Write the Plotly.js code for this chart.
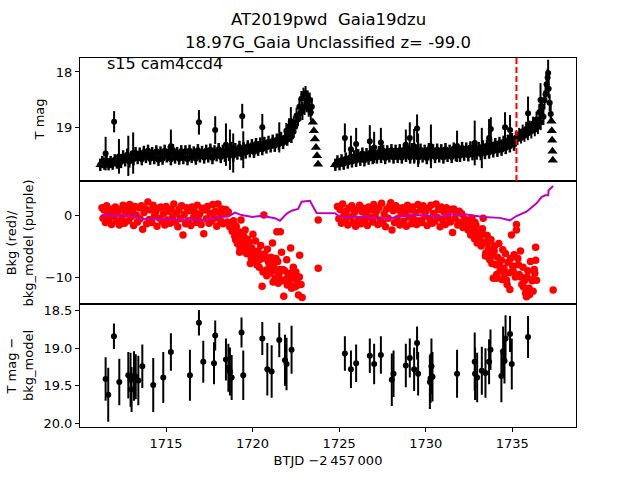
<!DOCTYPE html>
<html><head><meta charset="utf-8">
<script src="https://cdn.plot.ly/plotly-3.0.1.min.js"></script>
<style>body{margin:0;background:#fff;}#chart{width:640px;height:480px;}</style>
</head><body><div id="chart"></div>
<script>
// ---------------- text ----------------
const titleLine1 = "AT2019pwd \u00a0Gaia19dzu";
const titleLine2 = "18.97G_Gaia Unclassified z= -99.0";
const sectorLabel = "s15 cam4ccd4";
const xLabel = "BTJD \u22122\u2009457\u2009000";
const yLabelTop = "T mag";
const yLabelMid = "Bkg (red)/<br>bkg_model (purple)";
const yLabelBot = "T mag \u2212<br>bkg_model";
const discoveryDay = 1735.24;

// ---------------- top panel: dense light-curve band ----------------
const bandDay1 = [
1711.20,1711.32,1711.44,1711.56,1711.68,1711.80,1711.92,1712.04,1712.16,1712.28,
1712.40,1712.52,1712.64,1712.76,1712.88,1713.00,1713.12,1713.24,1713.36,1713.48,
1713.60,1713.72,1713.84,1713.96,1714.08,1714.20,1714.32,1714.44,1714.56,1714.68,
1714.80,1714.92,1715.04,1715.16,1715.28,1715.40,1715.52,1715.64,1715.76,1715.88,
1716.00,1716.12,1716.24,1716.36,1716.48,1716.60,1716.72,1716.84,1716.96,1717.08,
1717.20,1717.32,1717.44,1717.56,1717.68,1717.80,1717.92,1718.04,1718.16,1718.28,
1718.40,1718.52,1718.64,1718.76,1718.88,1719.00,1719.12,1719.24,1719.36,1719.48,
1719.60,1719.72,1719.84,1719.96,1720.08,1720.20,1720.32,1720.44,1720.56,1720.68,
1720.80,1720.92,1721.04,1721.16,1721.28,1721.40,1721.52,1721.64,1721.76,1721.88,
1722.00,1722.12,1722.24,1722.36];
const bandMag1 = [
19.66,19.61,19.64,19.60,19.65,19.61,19.64,19.58,19.62,19.57,
19.61,19.51,19.58,19.48,19.60,19.52,19.56,19.45,19.54,19.46,
19.56,19.43,19.52,19.41,19.55,19.45,19.54,19.42,19.57,19.44,
19.55,19.41,19.51,19.43,19.56,19.40,19.53,19.45,19.55,19.42,
19.54,19.42,19.56,19.41,19.52,19.44,19.55,19.40,19.51,19.43,
19.53,19.41,19.51,19.39,19.54,19.42,19.49,19.38,19.52,19.41,
19.50,19.38,19.48,19.36,19.50,19.38,19.46,19.34,19.47,19.36,
19.44,19.33,19.42,19.31,19.43,19.29,19.39,19.28,19.38,19.27,
19.35,19.25,19.33,19.23,19.32,19.21,19.29,19.18,19.27,19.17,
19.21,19.13,19.16,19.07];
const bandDay2 = [
1724.78,1724.90,1725.02,1725.14,1725.26,1725.38,1725.50,1725.62,1725.74,1725.86,
1725.98,1726.10,1726.22,1726.34,1726.46,1726.58,1726.70,1726.82,1726.94,1727.06,
1727.18,1727.30,1727.42,1727.54,1727.66,1727.78,1727.90,1728.02,1728.14,1728.26,
1728.38,1728.50,1728.62,1728.74,1728.86,1728.98,1729.10,1729.22,1729.34,1729.46,
1729.58,1729.70,1729.82,1729.94,1730.06,1730.18,1730.30,1730.42,1730.54,1730.66,
1730.78,1730.90,1731.02,1731.14,1731.26,1731.38,1731.50,1731.62,1731.74,1731.86,
1731.98,1732.10,1732.22,1732.34,1732.46,1732.58,1732.70,1732.82,1732.94,1733.06,
1733.18,1733.30,1733.42,1733.54,1733.66,1733.78,1733.90,1734.02,1734.14,1734.26,
1734.38,1734.50,1734.62,1734.74,1734.86,1734.98,1735.10,1735.22];
const bandMag2 = [
19.66,19.60,19.65,19.58,19.64,19.55,19.62,19.53,19.60,19.51,
19.59,19.49,19.57,19.46,19.58,19.47,19.55,19.44,19.54,19.45,
19.53,19.43,19.52,19.41,19.54,19.42,19.51,19.40,19.53,19.41,
19.52,19.40,19.53,19.39,19.50,19.42,19.53,19.38,19.51,19.41,
19.53,19.39,19.51,19.41,19.54,19.38,19.50,19.40,19.52,19.39,
19.51,19.40,19.53,19.38,19.50,19.41,19.52,19.37,19.49,19.39,
19.50,19.36,19.48,19.37,19.49,19.35,19.47,19.34,19.46,19.36,
19.47,19.33,19.45,19.32,19.44,19.30,19.42,19.29,19.41,19.27,
19.39,19.25,19.36,19.23,19.33,19.20,19.30,19.17];
const bandErr = 0.11;

// ---------------- top panel: upper limits (triangles) ----------------
const limDay = [1711.22,1711.34,1711.46,1711.58,
1723.48,1723.54,1723.60,1723.66,1723.72,1723.78,
1724.76,1724.86,1724.96,1725.06,
1737.26,1737.28,1737.30,1737.32,1737.34];
const limMag = [19.66,19.62,19.67,19.63,
18.90,19.05,19.20,19.35,19.50,19.65,
19.66,19.62,19.65,19.61,
18.88,19.05,19.22,19.42,19.58];

// ---------------- top panel: detections with errors ----------------
const peak1Day = [1721.95,1722.10,1722.30,1722.38,1722.46,1722.54,1722.62,1722.70,1722.76,1722.82,1722.88,1722.94,1723.00,1723.06,1723.12,1723.18,1723.24,1723.30,1723.36,1723.42];
const peak1Mag = [19.05,18.98,19.08,18.92,18.98,18.78,18.85,18.62,18.74,18.48,18.70,18.40,18.62,18.38,18.55,18.45,18.66,18.50,18.72,18.62];
const peak1Err = [0.14,0.15,0.12,0.13,0.12,0.14,0.12,0.15,0.13,0.14,0.16,0.12,0.15,0.13,0.17,0.12,0.14,0.13,0.15,0.16];
const peak2Day = [1735.30,1735.40,1735.50,1735.60,1735.70,1735.80,1735.90,1736.00,1736.10,1736.20,1736.30,1736.40,1736.48,1736.56,1736.64,1736.72,1736.80,1736.86,1736.92,1736.98,1737.04,1737.10,1737.16,1737.22];
const peak2Mag = [19.20,19.12,19.18,19.06,19.14,19.02,19.10,18.98,19.06,18.92,19.03,18.85,18.98,18.72,18.90,18.62,18.80,18.50,18.40,18.22,18.10,18.30,18.55,18.75];
const peak2Err = [0.11,0.12,0.10,0.12,0.11,0.13,0.12,0.11,0.13,0.12,0.12,0.14,0.13,0.15,0.14,0.16,0.15,0.17,0.16,0.18,0.16,0.17,0.15,0.16];
const outDay = [1711.51,1712.00,1712.28,1712.82,1713.10,1715.28,1716.90,1717.84,1718.46,1718.69,
1718.88,1719.40,1719.46,1720.56,1721.54,1722.21,1725.33,1725.68,1725.98,1726.77,
1727.02,1727.41,1728.85,1729.08,1729.33,1729.50,1729.56,1730.30,1731.81,1732.83,
1733.24,1733.66,1733.76,1734.58,1734.87,1735.91,1736.63,1737.07];
const outMag = [19.46,18.89,19.51,19.50,19.45,19.33,18.90,19.04,19.30,19.39,
19.45,18.79,19.39,18.99,19.17,18.88,19.18,19.38,19.29,19.24,
19.35,19.26,19.30,19.18,19.33,19.01,19.40,19.33,19.33,19.27,
19.36,19.18,19.02,18.99,19.04,18.74,18.50,18.02];
const outErr = [0.30,0.19,0.31,0.36,0.37,0.30,0.22,0.25,0.38,0.36,
0.35,0.22,0.33,0.24,0.27,0.25,0.26,0.24,0.29,0.29,
0.28,0.26,0.27,0.28,0.31,0.25,0.30,0.39,0.28,0.40,
0.36,0.34,0.21,0.27,0.27,0.30,0.30,0.24];

// ---------------- middle panel: background (red) ----------------
const bkgDay1 = [
1711.30,1711.36,1711.42,1711.50,1711.57,1711.63,1711.70,1711.78,1711.85,1711.92,
1712.00,1712.07,1712.15,1712.22,1712.30,1712.37,1712.45,1712.52,1712.60,1712.68,
1712.75,1712.83,1712.90,1712.98,1713.05,1713.13,1713.20,1713.28,1713.35,1713.43,
1713.50,1713.58,1713.65,1713.73,1713.80,1713.88,1713.95,1714.03,1714.10,1714.18,
1714.25,1714.33,1714.40,1714.48,1714.55,1714.63,1714.70,1714.78,1714.85,1714.93,
1715.00,1715.08,1715.15,1715.23,1715.30,1715.38,1715.45,1715.53,1715.60,1715.68,
1715.75,1715.83,1715.90,1715.98,1716.05,1716.13,1716.20,1716.28,1716.35,1716.43,
1716.50,1716.58,1716.65,1716.73,1716.80,1716.88,1716.95,1717.03,1717.10,1717.18,
1717.25,1717.33,1717.40,1717.48,1717.55,1717.63,1717.70,1717.78,1717.85,1717.93,
1718.00,1718.08,1718.15,1718.23,1718.30,1718.38,1718.45,1718.53,1718.60,1718.68];
const bkgVal1 = [
1.2,-0.5,0.8,-1.2,1.5,0.2,-0.8,1.0,-1.5,0.5,
-0.2,1.3,-1.0,0.6,-1.6,0.9,-0.4,1.6,-1.3,0.3,
1.1,-0.9,1.7,-0.3,0.7,-1.7,1.4,0.0,-1.1,1.2,
-0.6,1.5,-2.3,0.4,1.0,-1.4,2.1,-0.7,0.8,-1.2,
1.6,-0.2,0.5,-1.8,1.1,-0.5,1.3,-1.0,0.2,-1.6,
1.4,-0.8,0.6,-1.3,1.0,-0.3,1.8,-1.1,0.3,-1.9,
0.9,-0.6,1.5,-3.2,0.1,-1.4,1.2,-0.9,0.7,-1.7,
1.3,-0.4,0.5,-1.2,1.6,-0.8,0.2,-1.5,1.1,-3.0,
0.8,-0.6,1.4,-1.3,0.3,-1.0,1.7,-0.5,0.6,-1.8,
1.8,0.4,-0.9,1.0,-1.4,0.2,0.9,-1.1,0.5,-1.9];
const bkgDay1b = [
1718.75,1718.82,1718.90,1718.97,1719.05,1719.12,1719.20,1719.27,1719.33,1719.42,
1719.50,1719.57,1719.65,1719.72,1719.80,1719.87,1719.95,1720.02,1720.10,1720.17,
1720.25,1720.32,1720.40,1720.47,1720.55,1720.65,1720.70,1720.77,1720.85,1720.92,
1721.00,1721.07,1721.15,1721.22,1721.30,1721.40,1721.45,1721.52,1721.60,1721.67,
1721.75,1721.80,1721.90,1721.97,1722.05,1722.12,1722.20,1722.27,1722.35,1722.42,
1722.50,1722.57,1722.65,1722.72,1722.80,1722.86,1723.79,1723.79,
1718.80,1718.92,1719.02,1719.15,1719.25,1719.38,1719.48,1719.60,1719.70,1719.83,
1719.92,1720.05,1720.15,1720.28,1720.38,1720.50,1720.60,1720.73,1720.82,1720.95,
1721.05,1721.18,1721.27,1721.35,1721.48,1721.57,1721.70,1721.85,1722.00,1722.15,
1722.25,1722.40,1722.55,1722.70];
const bkgVal1b = [
-1.2,-2.6,-0.9,-3.4,-1.8,-4.6,-2.7,-5.3,-0.8,-3.7,
-5.0,-2.4,-6.2,-3.9,-4.4,-7.8,-5.3,-3.1,-6.6,-4.2,
-8.0,-5.8,-7.2,-4.9,-11.5,0.0,-6.3,-8.9,-5.5,-7.6,
-9.4,-6.8,-4.5,-8.3,-10.2,-2.7,-7.5,-9.8,-2.7,-6.0,
-8.8,-13.1,-10.4,-7.2,-9.6,-11.0,-5.3,-10.0,-8.4,-11.6,
-9.2,-10.8,-12.9,-6.5,-11.2,-13.3,-0.8,-8.6,
-2.0,-1.5,-4.0,-3.0,-6.0,-4.5,-3.3,-5.6,-4.8,-6.0,
-6.9,-5.8,-7.4,-6.2,-8.4,-6.8,-9.2,-7.0,-9.8,-8.5,
-7.8,-10.8,-9.0,-7.0,-11.0,-8.8,-10.6,-9.0,-11.3,-9.4,
-11.8,-10.2,-11.4,-10.0];
const bkgDay2 = [
1724.90,1724.98,1725.05,1725.13,1725.20,1725.28,1725.35,1725.43,1725.50,1725.58,
1725.65,1725.73,1725.80,1725.88,1725.95,1726.03,1726.10,1726.18,1726.25,1726.33,
1726.40,1726.48,1726.55,1726.63,1726.70,1726.78,1726.85,1726.93,1727.00,1727.08,
1727.15,1727.23,1727.30,1727.38,1727.45,1727.53,1727.60,1727.68,1727.75,1727.83,
1727.90,1727.98,1728.05,1728.12,1728.20,1728.28,1728.35,1728.43,1728.50,1728.58,
1728.65,1728.73,1728.80,1728.88,1728.95,1729.03,1729.10,1729.18,1729.25,1729.33,
1729.40,1729.48,1729.55,1729.63,1729.70,1729.78,1729.85,1729.93,1730.00,1730.08,
1730.15,1730.23,1730.30,1730.38,1730.45,1730.53,1730.60,1730.68,1730.75,1730.83,
1730.90,1730.98,1731.05,1731.13,1731.20,1731.28,1731.35,1731.43,1731.50,1731.55,
1731.62,1731.70,1731.78,1731.85,1731.93,1732.00,1732.08,1732.15,1732.23,1732.30];
const bkgVal2 = [
1.4,-0.6,0.9,-1.3,1.8,0.1,-1.0,0.7,-1.6,1.2,
-0.3,1.5,-1.2,0.4,-1.8,1.0,-0.7,1.6,-1.4,0.5,
1.1,-0.9,0.3,-1.7,1.3,-0.4,0.8,-1.1,1.7,-0.2,
0.6,-1.5,1.2,-0.8,1.9,-1.3,0.2,-1.9,1.0,-0.5,
1.4,2.0,-2.4,0.7,-1.2,1.5,-0.6,0.9,-1.6,0.3,
1.2,-1.0,0.5,-1.8,1.6,-0.3,0.9,-1.4,1.3,-0.7,
0.4,-1.5,1.7,-0.9,0.8,-1.2,1.5,-0.2,0.6,-1.7,
1.1,-0.6,1.6,-1.3,0.3,-1.0,1.8,-0.4,0.9,-1.9,
1.3,-0.8,0.5,-1.5,1.2,-0.3,0.7,-1.1,0.9,-2.8,
1.0,-0.5,0.4,-1.6,0.6,-1.2,0.2,-2.0,-0.6,-1.4];
const bkgDay2b = [
1732.38,1732.45,1732.52,1732.60,1732.67,1732.75,1732.82,1732.90,1732.97,1733.05,
1733.12,1733.20,1733.27,1733.32,1733.40,1733.47,1733.55,1733.62,1733.70,1733.77,
1733.85,1733.90,1733.97,1734.05,1734.09,1734.15,1734.22,1734.30,1734.37,1734.45,
1734.52,1734.60,1734.67,1734.75,1734.82,1734.86,1734.95,1735.02,1735.10,1735.17,
1735.24,1735.24,1735.32,1735.40,1735.47,1735.55,1735.62,1735.70,1735.77,1735.82,
1735.90,1735.97,1736.05,1736.12,1736.20,1736.27,1736.35,1736.35,1736.40,1737.36,
1732.40,1732.55,1732.70,1732.85,1733.00,1733.15,1733.30,1733.45,1733.58,1733.72,
1733.82,1733.95,1734.10,1734.25,1734.40,1734.55,1734.70,1734.90,1735.05,1735.35,
1735.50,1735.65,1735.85,1736.00,1736.15,1736.30];
const bkgVal2b = [
-0.8,-2.4,-1.3,-3.2,-0.5,-2.0,-3.8,-1.6,-4.5,-2.7,
-3.6,-5.0,-2.2,-0.5,-4.4,-6.1,-3.3,-5.4,-7.2,-4.0,
-6.5,-10.2,-5.0,-8.0,-10.2,-6.8,-4.6,-9.0,-7.3,-5.6,
-8.6,-6.2,-10.5,-7.6,-9.3,-12.0,-3.2,-8.2,-6.4,-10.0,
-1.5,-2.4,-7.0,-9.6,-5.8,-11.2,-8.4,-10.6,-12.6,-13.2,
-9.0,-11.8,-7.5,-10.4,-12.3,-8.8,-5.2,-7.3,-10.5,-12.1,
-1.8,-0.9,-2.8,-1.2,-3.5,-4.2,-3.0,-6.6,-4.4,-6.0,
-7.8,-5.8,-9.6,-7.9,-10.4,-9.5,-11.2,-7.0,-9.0,-8.0,
-10.0,-11.6,-10.0,-12.8,-10.6,-9.4];

// ---------------- middle panel: background model (purple) ----------------
const modelDay = [1711.28,1712.0,1712.8,1713.3,1713.5,1714.5,1715.8,1716.6,1717.35,1717.7,
1718.0,1718.6,1718.98,1719.36,1720.0,1720.52,1721.29,1721.58,1721.96,1722.25,
1722.63,1722.83,1723.1,1723.31,1723.45,1723.7,1724.75,1725.04,1725.7,1726.39,
1727.35,1727.93,1728.89,1729.85,1730.81,1731.39,1731.68,1732.35,1733.32,1734.28,
1734.86,1735.24,1735.82,1736.4,1736.69,1736.9,1737.07,1737.1,1737.36];
const modelVal = [0.0,-0.1,-0.1,-0.2,-0.6,-0.7,-0.75,-0.7,-0.85,-0.6,
-0.3,-0.25,0.4,0.0,-0.3,-0.1,-0.5,-0.9,0.2,0.7,
1.0,2.15,2.3,2.3,1.6,0.35,0.3,-0.25,-0.3,-0.3,
-0.55,-0.5,-0.1,0.0,-0.3,0.1,0.1,0.1,-0.3,-0.45,
-0.85,-0.15,0.55,1.9,2.9,3.2,3.2,4.0,4.7];

// ---------------- bottom panel: T mag - bkg_model ----------------
const resDay = [1711.51,1711.66,1711.99,1712.30,1712.82,1712.95,1713.01,1713.15,1713.25,1713.40,
1713.63,1714.26,1714.84,1715.28,1716.38,1716.90,1717.15,1717.77,1717.84,1718.46,
1718.60,1718.69,1718.79,1719.36,1719.46,1720.56,1720.85,1721.10,1721.54,1721.87,
1721.96,1722.25,1725.33,1725.68,1725.98,1726.77,1727.02,1727.41,1728.04,1728.14,
1728.85,1729.08,1729.33,1729.50,1729.56,1730.24,1730.28,1730.33,1730.39,1731.81,
1732.83,1732.85,1732.97,1733.24,1733.45,1733.66,1733.74,1734.37,1734.47,1734.55,
1734.61,1734.87,1734.97,1735.91];
const resMag = [19.41,19.62,18.84,19.45,19.36,19.42,19.55,19.37,19.38,19.43,
19.24,19.49,19.39,19.05,19.36,18.66,19.18,19.20,18.83,19.15,
19.26,19.31,19.39,18.79,19.36,18.87,19.28,19.31,18.89,19.16,
19.21,19.02,19.07,19.28,19.20,19.10,19.21,19.09,19.42,19.34,
19.23,19.13,19.28,18.93,19.34,19.45,19.40,19.24,19.38,19.34,
19.18,19.34,19.39,19.30,19.33,19.18,19.02,19.37,19.04,19.17,
18.87,18.81,19.21,18.85];
const resErr = [0.29,0.36,0.17,0.31,0.31,0.36,0.30,0.33,0.30,0.33,
0.29,0.36,0.34,0.25,0.34,0.17,0.28,0.28,0.20,0.28,
0.32,0.32,0.30,0.20,0.33,0.22,0.35,0.35,0.23,0.34,
0.35,0.32,0.23,0.25,0.25,0.23,0.27,0.25,0.35,0.31,
0.29,0.26,0.29,0.22,0.29,0.36,0.33,0.37,0.33,0.32,
0.39,0.35,0.33,0.32,0.33,0.30,0.27,0.35,0.33,0.30,
0.31,0.24,0.34,0.28];

// ---------------- traces ----------------
const errStyle = (arr) => ({type:'data', array: arr, visible:true, color:'#000', thickness:2, width:0});
const blackDot = {color:'#000', size:6};
const traces = [
  {x: bandDay1.concat(bandDay2), y: bandMag1.concat(bandMag2), xaxis:'x3', yaxis:'y3', type:'scatter', mode:'markers',
   marker: blackDot, error_y:{type:'constant', value:bandErr, visible:true, color:'#000', thickness:2.5, width:0}},
  {x: limDay, y: limMag, xaxis:'x3', yaxis:'y3', type:'scatter', mode:'markers',
   marker:{symbol:'triangle-up', color:'#000', size:9}},
  {x: peak1Day.concat(peak2Day), y: peak1Mag.concat(peak2Mag), xaxis:'x3', yaxis:'y3', type:'scatter', mode:'markers',
   marker: blackDot, error_y: errStyle(peak1Err.concat(peak2Err))},
  {x: outDay, y: outMag, xaxis:'x3', yaxis:'y3', type:'scatter', mode:'markers',
   marker: blackDot, error_y: errStyle(outErr)},
  {x: bkgDay1.concat(bkgDay1b, bkgDay2, bkgDay2b), y: bkgVal1.concat(bkgVal1b, bkgVal2, bkgVal2b),
   xaxis:'x2', yaxis:'y2', type:'scatter', mode:'markers', marker:{color:'#ff0000', size:7.5}},
  {x: modelDay, y: modelVal, xaxis:'x2', yaxis:'y2', type:'scatter', mode:'lines',
   line:{color:'#bf00bf', width:2}},
  {x: resDay, y: resMag, xaxis:'x', yaxis:'y', type:'scatter', mode:'markers',
   marker: blackDot, error_y: errStyle(resErr)}
];

const frame = {showline:true, mirror:true, linecolor:'#000', linewidth:1, showgrid:false, zeroline:false,
  ticks:'outside', ticklen:4, tickwidth:1, tickcolor:'#000', tickfont:{family:'DejaVu Sans', size:13, color:'#000'}};
const xRange = [1710.03, 1738.68];
const third = 1/3;
const labelFont = {family:'DejaVu Sans', size:13, color:'#000'};
const titleFont = {family:'DejaVu Sans', size:16.5, color:'#000'};

const layout = {
  width:640, height:480,
  margin:{l:80, r:64, t:58, b:53},
  paper_bgcolor:'#fff', plot_bgcolor:'#fff',
  showlegend:false,
  font:{family:'DejaVu Sans', color:'#000'},
  xaxis: Object.assign({}, frame, {anchor:'y', domain:[0,1], range:xRange, tickvals:[1715,1720,1725,1730,1735],
         title:{text:xLabel, font:labelFont, standoff:6}}),
  xaxis2: Object.assign({}, frame, {anchor:'y2', matches:'x', range:xRange, ticks:'', showticklabels:false}),
  xaxis3: Object.assign({}, frame, {anchor:'y3', matches:'x', range:xRange, ticks:'', showticklabels:false}),
  yaxis: Object.assign({}, frame, {domain:[0, third], range:[20.05, 18.41],
         tickvals:[18.5,19.0,19.5,20.0], ticktext:['18.5','19.0','19.5','20.0']}),
  yaxis2: Object.assign({}, frame, {domain:[third, 2*third], range:[-14.35, 5.5],
         tickvals:[-10,0], ticktext:['\u221210','0']}),
  yaxis3: Object.assign({}, frame, {domain:[2*third, 1], range:[19.95, 17.75],
         tickvals:[18,19], ticktext:['18','19']}),
  shapes:[{type:'line', xref:'x3', yref:'y3 domain', x0:discoveryDay, x1:discoveryDay, y0:0, y1:1,
           line:{color:'#ff0000', width:2, dash:'6px,3px'}}],
  annotations:[
    {text:titleLine1, xref:'paper', yref:'paper', x:0.5, y:1.103, xanchor:'center', yanchor:'middle',
     showarrow:false, font:titleFont},
    {text:titleLine2, xref:'paper', yref:'paper', x:0.5, y:1.041, xanchor:'center', yanchor:'middle',
     showarrow:false, font:titleFont},
    {text:sectorLabel, xref:'paper', yref:'paper', x:0.05, y:0.985, xanchor:'left', yanchor:'middle',
     showarrow:false, font:{family:'DejaVu Sans', size:16, color:'#000'}},
    {text:yLabelTop, xref:'paper', yref:'paper', x:-0.081, y:0.833, xanchor:'center', yanchor:'middle',
     textangle:-90, showarrow:false, font:labelFont},
    {text:yLabelMid, xref:'paper', yref:'paper', x:-0.121, y:0.5, xanchor:'center', yanchor:'middle',
     textangle:-90, showarrow:false, font:labelFont},
    {text:yLabelBot, xref:'paper', yref:'paper', x:-0.121, y:0.168, xanchor:'center', yanchor:'middle',
     textangle:-90, showarrow:false, font:labelFont}
  ]
};

Plotly.newPlot('chart', traces, layout, {staticPlot:true, displayModeBar:false});
</script></body></html>
